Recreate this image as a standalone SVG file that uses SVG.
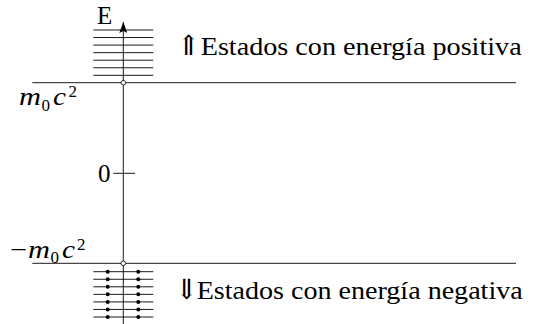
<svg xmlns="http://www.w3.org/2000/svg" width="535" height="324" viewBox="0 0 535 324">
<defs>
<style>
.ln{stroke:#000;stroke-width:0.9;fill:none}
.lvl{stroke:#000;stroke-width:0.9}
.dot{fill:#000}
.ring{fill:#fff;stroke:#000;stroke-width:0.8}
</style>
<marker id="ah" viewBox="0 0 11 8" refX="11" refY="4" markerWidth="11" markerHeight="8" markerUnits="userSpaceOnUse" orient="auto">
<path d="M0,0 L11,4 L0,8 L2,4 Z" fill="#000"/>
</marker>
</defs>
<g id="connectors">
<line id="axis" class="ln" x1="123.3" y1="324" x2="123.3" y2="22" marker-end="url(#ah)"/>
<line id="line-top" class="ln" x1="32.3" y1="82.7" x2="516" y2="82.7"/>
<line id="line-bottom" class="ln" x1="32.3" y1="263.3" x2="516" y2="263.3"/>
<line id="tick-zero" class="ln" x1="113.3" y1="173.3" x2="135" y2="173.3"/>
</g>
<g id="positive-levels">
<line class="lvl" x1="93.3" y1="30" x2="153.3" y2="30"/>
<line class="lvl" x1="93.3" y1="37.55" x2="153.3" y2="37.55"/>
<line class="lvl" x1="93.3" y1="45.1" x2="153.3" y2="45.1"/>
<line class="lvl" x1="93.3" y1="52.65" x2="153.3" y2="52.65"/>
<line class="lvl" x1="93.3" y1="60.2" x2="153.3" y2="60.2"/>
<line class="lvl" x1="93.3" y1="67.75" x2="153.3" y2="67.75"/>
<line class="lvl" x1="93.3" y1="75.3" x2="153.3" y2="75.3"/>
</g>
<g id="negative-levels">
<line class="lvl" x1="93.3" y1="271.7" x2="153.3" y2="271.7"/>
<line class="lvl" x1="93.3" y1="279.25" x2="153.3" y2="279.25"/>
<line class="lvl" x1="93.3" y1="286.8" x2="153.3" y2="286.8"/>
<line class="lvl" x1="93.3" y1="294.35" x2="153.3" y2="294.35"/>
<line class="lvl" x1="93.3" y1="301.9" x2="153.3" y2="301.9"/>
<line class="lvl" x1="93.3" y1="309.45" x2="153.3" y2="309.45"/>
<line class="lvl" x1="93.3" y1="317" x2="153.3" y2="317"/>
<circle class="dot" cx="107.7" cy="271.7" r="2"/><circle class="dot" cx="138.3" cy="271.7" r="2"/>
<circle class="dot" cx="107.7" cy="279.25" r="2"/><circle class="dot" cx="138.3" cy="279.25" r="2"/>
<circle class="dot" cx="107.7" cy="286.8" r="2"/><circle class="dot" cx="138.3" cy="286.8" r="2"/>
<circle class="dot" cx="107.7" cy="294.35" r="2"/><circle class="dot" cx="138.3" cy="294.35" r="2"/>
<circle class="dot" cx="107.7" cy="301.9" r="2"/><circle class="dot" cx="138.3" cy="301.9" r="2"/>
<circle class="dot" cx="107.7" cy="309.45" r="2"/><circle class="dot" cx="138.3" cy="309.45" r="2"/>
<circle class="dot" cx="107.7" cy="317" r="2"/><circle class="dot" cx="138.3" cy="317" r="2"/>
</g>
<g id="origin-marks">
<circle class="ring" cx="123.3" cy="82.7" r="2.3"/>
<circle class="ring" cx="123.3" cy="263.3" r="2.3"/>
</g>
<g id="label-E"><text font-family="Liberation Serif" font-size="25" x="97" y="24">E</text></g>
<g id="label-zero"><text font-family="Liberation Serif" font-size="25" x="98" y="182">0</text></g>
<g id="label-m0c2">
<text font-family="Liberation Serif" font-size="25"><tspan font-style="italic" x="19" y="105" textLength="22" lengthAdjust="spacingAndGlyphs">m</tspan><tspan font-size="17" x="41.5" y="110.5">0</tspan><tspan font-style="italic" x="53" y="105" textLength="13" lengthAdjust="spacingAndGlyphs">c</tspan><tspan font-size="17" x="68.5" y="97">2</tspan></text>
</g>
<g id="label-minus-m0c2">
<text font-family="Liberation Serif" font-size="25"><tspan x="10" y="258" textLength="17" lengthAdjust="spacingAndGlyphs">−</tspan><tspan font-style="italic" x="28" y="258" textLength="22" lengthAdjust="spacingAndGlyphs">m</tspan><tspan font-size="17" x="50.5" y="262.5">0</tspan><tspan font-style="italic" x="62" y="258" textLength="13" lengthAdjust="spacingAndGlyphs">c</tspan><tspan font-size="17" x="77" y="250">2</tspan></text>
</g>
<g id="label-positive">
<text font-family="Liberation Serif" font-size="25" y="55"><tspan font-family="DejaVu Serif" font-size="28" x="177">⇑</tspan><tspan x="200.7" textLength="321" lengthAdjust="spacingAndGlyphs">Estados con energía positiva</tspan></text>
</g>
<g id="label-negative">
<text font-family="Liberation Serif" font-size="25" y="298.5"><tspan font-family="DejaVu Serif" font-size="28" x="175">⇓</tspan><tspan x="196.7" textLength="326" lengthAdjust="spacingAndGlyphs">Estados con energía negativa</tspan></text>
</g>
</svg>
